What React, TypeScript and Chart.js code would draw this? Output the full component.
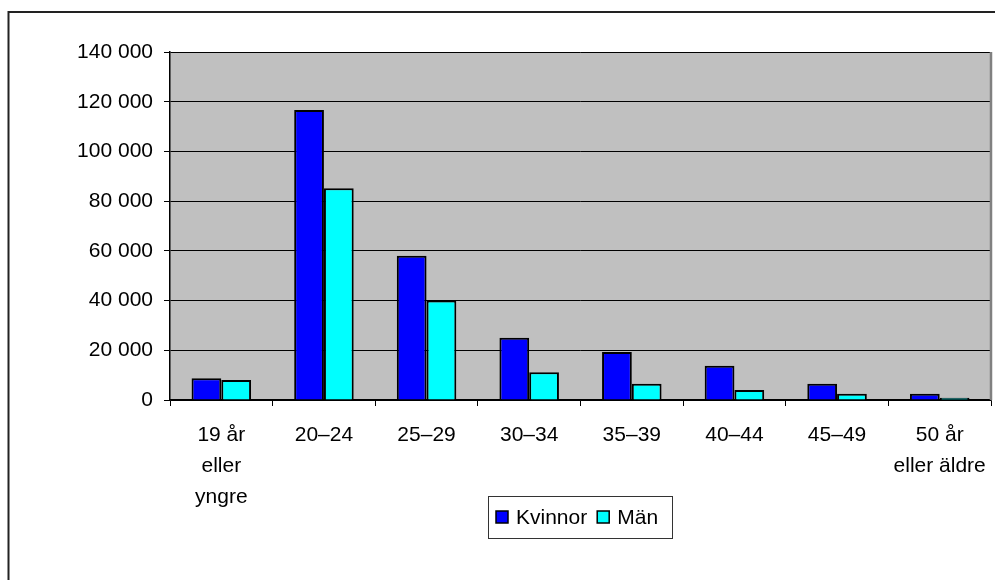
import React, { useEffect, useRef } from "react";
import { Chart, registerables } from "chart.js";

Chart.register(...registerables);

const categories: (string | string[])[] = [
  ["19 år", "eller", "yngre"],
  "20–24",
  "25–29",
  "30–34",
  "35–39",
  "40–44",
  "45–49",
  ["50 år", "eller äldre"],
];
const kvinnor = [8700, 116700, 58000, 25000, 19300, 13800, 6500, 2500];
const man = [8000, 85200, 40000, 11200, 6500, 4000, 2500, 900];
const seriesNames = ["Kvinnor", "Män"];
const seriesColors = ["#0000FF", "#00FFFF"];
const yMax = 140000;
const yStep = 20000;

const FONT = "'Liberation Sans', Arial, sans-serif";

const fmt = (v: number) => String(v).replace(/\B(?=(\d{3})+(?!\d))/g, " ");

const decorPlugin = {
  id: "decor",
  beforeDraw(chart: any) {
    const { ctx, chartArea: a, width, height } = chart;
    ctx.save();
    ctx.fillStyle = "#ffffff";
    ctx.fillRect(0, 0, width, height);
    ctx.fillStyle = "#C0C0C0";
    ctx.fillRect(a.left, a.top, a.right - a.left, a.bottom - a.top);
    ctx.restore();
  },
  afterDraw(chart: any) {
    const { ctx, chartArea: a, width, height } = chart;
    ctx.save();
    // outer frame
    ctx.strokeStyle = "#222";
    ctx.lineWidth = 2;
    ctx.beginPath();
    ctx.moveTo(width + 2, 12);
    ctx.lineTo(8.5, 12);
    ctx.lineTo(8.5, height + 2);
    ctx.stroke();
    // plot area right edge
    ctx.strokeStyle = "#808080";
    ctx.lineWidth = 2.5;
    ctx.beginPath();
    ctx.moveTo(a.right, a.top);
    ctx.lineTo(a.right, a.bottom);
    ctx.stroke();
    // legend
    const lx = 488, ly = 496, lw = 184, lh = 42;
    ctx.fillStyle = "#fff";
    ctx.fillRect(lx, ly, lw, lh);
    ctx.strokeStyle = "#333";
    ctx.lineWidth = 1;
    ctx.strokeRect(lx + 0.5, ly + 0.5, lw, lh);
    ctx.font = `21px ${FONT}`;
    ctx.textBaseline = "middle";
    ctx.textAlign = "left";
    let x = lx + 8;
    const cy = ly + lh / 2;
    chart.data.datasets.forEach((ds: any) => {
      ctx.fillStyle = ds.backgroundColor;
      ctx.fillRect(x, cy - 6, 12, 12);
      ctx.strokeStyle = "#000";
      ctx.lineWidth = 1.5;
      ctx.strokeRect(x, cy - 6, 12, 12);
      ctx.fillStyle = "#000";
      ctx.fillText(ds.label, x + 20, cy + 1);
      x += 20 + ctx.measureText(ds.label).width + 10;
    });
    ctx.restore();
  },
};

export default function App() {
  const ref = useRef<HTMLCanvasElement>(null);
  useEffect(() => {
    if (!ref.current) return;
    const chart = new Chart(ref.current, {
      type: "bar",
      data: {
        labels: categories,
        datasets: [
          {
            label: seriesNames[0],
            data: kvinnor,
            backgroundColor: seriesColors[0],
            borderColor: "#000",
            borderWidth: 2,
            categoryPercentage: 0.58,
            barPercentage: 1,
          },
          {
            label: seriesNames[1],
            data: man,
            backgroundColor: seriesColors[1],
            borderColor: "#000",
            borderWidth: 2,
            categoryPercentage: 0.58,
            barPercentage: 1,
          },
        ],
      },
      options: {
        responsive: false,
        animation: false,
        devicePixelRatio: 1,
        layout: { padding: { left: 0, top: 52, right: 0, bottom: 0 } },
        plugins: {
          legend: { display: false },
          title: { display: false },
          tooltip: { enabled: false },
        },
        scales: {
          x: {
            offset: true,
            grid: {
              offset: true,
              drawOnChartArea: false,
              drawTicks: true,
              tickLength: 6,
              color: "#000",
              lineWidth: 1,
            },
            border: { color: "#000", width: 1.5 },
            ticks: {
              color: "#000",
              font: { family: FONT, size: 21, lineHeight: 1.48 },
              padding: 14,
              maxRotation: 0,
              autoSkip: false,
            },
            afterFit(scale: any) {
              scale.height = 180;
              scale.paddingRight = 4;
            },
          },
          y: {
            min: 0,
            max: yMax,
            grid: {
              color: "#000",
              lineWidth: 1,
              tickLength: 6,
              drawTicks: true,
            },
            border: { color: "#000", width: 1.5 },
            ticks: {
              stepSize: yStep,
              color: "#000",
              font: { family: FONT, size: 21 },
              padding: 11,
              callback: (v: any) => fmt(Number(v)),
            },
            afterFit(scale: any) {
              scale.width = 170;
            },
          },
        },
      },
      plugins: [decorPlugin],
    });
    return () => chart.destroy();
  }, []);
  return (
    <div style={{ position: "absolute", left: 0, top: 0, width: 995, height: 580 }}>
      <canvas ref={ref} width={995} height={580} />
    </div>
  );
}
